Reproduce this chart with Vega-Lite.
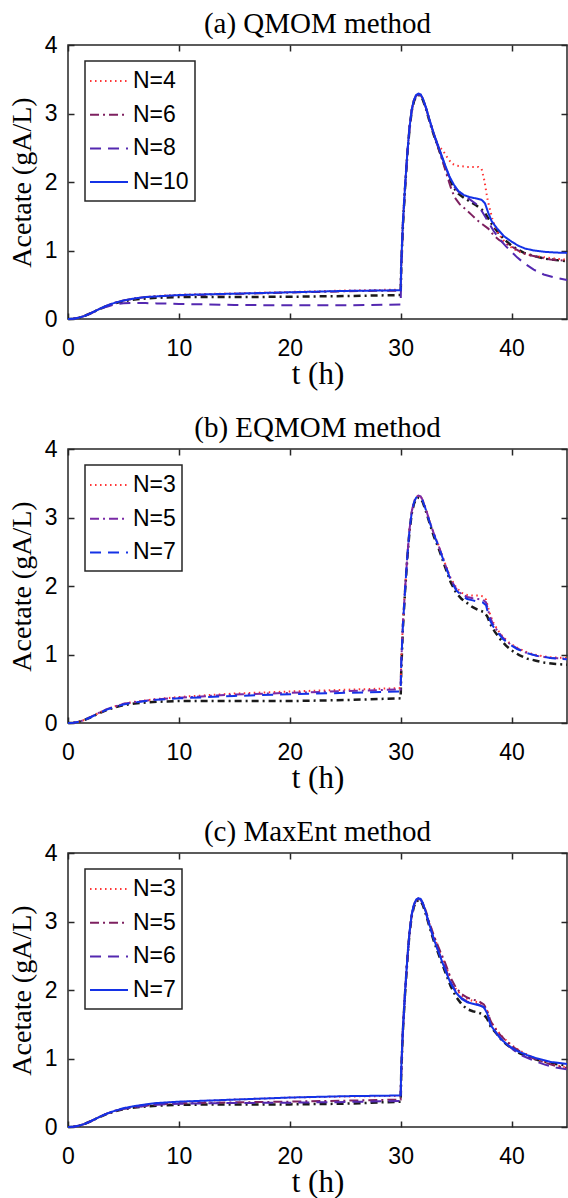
{
"$schema": "https://vega.github.io/schema/vega-lite/v6.json",
"autosize": {"type": "pad"},
"padding": {"left": 7, "top": 9, "right": 0, "bottom": 0},
"background": "white",
"bounds": "flush",
"spacing": 130,
"resolve": {"scale": {"color": "independent", "strokeDash": "independent"}, "legend": {"color": "independent", "strokeDash": "independent"}},
"config": {
  "view": {"stroke": "#262626", "strokeWidth": 1.5},
  "axis": {"grid": false, "domain": false, "tickColor": "#262626", "tickWidth": 1.5, "tickSize": -6,
    "labelFont": "Liberation Sans", "labelFontSize": 23, "labelColor": "#000", "labelFlush": false,
    "titleFont": "Liberation Serif", "titleFontSize": 28, "titleFontWeight": "normal", "titleColor": "#000"},
  "axisBottom": {"labelPadding": 24, "titlePadding": -1, "titleFontSize": 31},
  "axisLeft": {"labelPadding": 17, "titlePadding": 8},
  "legend": {"orient": "none", "legendX": 17, "legendY": 16, "symbolType": "M-1.46,0L1.46,0", "symbolSize": 676, "symbolOffset": 4,
    "symbolStrokeWidth": 2, "labelFont": "Liberation Sans", "labelFontSize": 23, "labelColor": "#000",
    "strokeColor": "#262626", "strokeWidth": 1.5, "padding": 6, "labelOffset": 10, "rowPadding": 7.7, "fillColor": "white"},
  "title": {"font": "Liberation Serif", "fontSize": 29, "fontWeight": "normal", "color": "#000", "offset": -5, "anchor": "middle", "frame": "group"},
  "line": {"strokeWidth": 2}
},
"vconcat": [
{
 "width": 499, "height": 274,
 "title": "(a) QMOM method",
 "data": {"values": [
{"s":"ref","t":0,"v":0},{"s":"ref","t":0.5,"v":0.005},{"s":"ref","t":1,"v":0.02},{"s":"ref","t":1.5,"v":0.045},{"s":"ref","t":2,"v":0.08},{"s":"ref","t":2.5,"v":0.12},{"s":"ref","t":3,"v":0.155},{"s":"ref","t":3.5,"v":0.19},{"s":"ref","t":4,"v":0.215},{"s":"ref","t":4.5,"v":0.24},{"s":"ref","t":5,"v":0.26},{"s":"ref","t":6,"v":0.285},{"s":"ref","t":7,"v":0.30},{"s":"ref","t":8,"v":0.31},{"s":"ref","t":10,"v":0.32},{"s":"ref","t":15,"v":0.32},{"s":"ref","t":20,"v":0.325},{"s":"ref","t":25,"v":0.335},{"s":"ref","t":30,"v":0.35},{"s":"ref","t":30.05,"v":0.75},{"s":"ref","t":30.2,"v":1.35},{"s":"ref","t":30.4,"v":1.92},{"s":"ref","t":30.6,"v":2.40},{"s":"ref","t":30.8,"v":2.78},{"s":"ref","t":31,"v":3.04},{"s":"ref","t":31.2,"v":3.18},{"s":"ref","t":31.4,"v":3.25},{"s":"ref","t":31.6,"v":3.27},{"s":"ref","t":31.8,"v":3.26},{"s":"ref","t":32,"v":3.20},{"s":"ref","t":32.3,"v":3.06},{"s":"ref","t":32.6,"v":2.89},{"s":"ref","t":33,"v":2.68},{"s":"ref","t":33.4,"v":2.50},{"s":"ref","t":34,"v":2.22},{"s":"ref","t":34.4,"v":2.05},{"s":"ref","t":34.8,"v":1.91},{"s":"ref","t":35.2,"v":1.83},{"s":"ref","t":35.7,"v":1.77},{"s":"ref","t":36.2,"v":1.72},{"s":"ref","t":36.8,"v":1.66},{"s":"ref","t":37.3,"v":1.60},{"s":"ref","t":37.6,"v":1.55},{"s":"ref","t":37.9,"v":1.47},{"s":"ref","t":38.2,"v":1.39},{"s":"ref","t":38.7,"v":1.28},{"s":"ref","t":39.3,"v":1.17},{"s":"ref","t":40,"v":1.07},{"s":"ref","t":40.6,"v":1.01},{"s":"ref","t":41.2,"v":0.96},{"s":"ref","t":42,"v":0.92},{"s":"ref","t":43,"v":0.88},{"s":"ref","t":44,"v":0.86},{"s":"ref","t":45,"v":0.845},

{"s":"N=4","t":0,"v":0},{"s":"N=4","t":0.5,"v":0.005},{"s":"N=4","t":1,"v":0.02},{"s":"N=4","t":1.5,"v":0.045},{"s":"N=4","t":2,"v":0.08},{"s":"N=4","t":2.5,"v":0.12},{"s":"N=4","t":3,"v":0.16},{"s":"N=4","t":3.5,"v":0.195},{"s":"N=4","t":4,"v":0.225},{"s":"N=4","t":4.5,"v":0.25},{"s":"N=4","t":5,"v":0.27},{"s":"N=4","t":6,"v":0.30},{"s":"N=4","t":7,"v":0.32},{"s":"N=4","t":8,"v":0.335},{"s":"N=4","t":10,"v":0.355},{"s":"N=4","t":15,"v":0.375},{"s":"N=4","t":20,"v":0.395},{"s":"N=4","t":25,"v":0.415},{"s":"N=4","t":30,"v":0.43},{"s":"N=4","t":30.05,"v":0.8},{"s":"N=4","t":30.2,"v":1.4},{"s":"N=4","t":30.4,"v":1.95},{"s":"N=4","t":30.6,"v":2.42},{"s":"N=4","t":30.8,"v":2.8},{"s":"N=4","t":31,"v":3.06},{"s":"N=4","t":31.2,"v":3.2},{"s":"N=4","t":31.4,"v":3.27},{"s":"N=4","t":31.6,"v":3.29},{"s":"N=4","t":31.8,"v":3.28},{"s":"N=4","t":32,"v":3.22},{"s":"N=4","t":32.3,"v":3.08},{"s":"N=4","t":32.6,"v":2.91},{"s":"N=4","t":33,"v":2.70},{"s":"N=4","t":33.4,"v":2.53},{"s":"N=4","t":33.8,"v":2.46},{"s":"N=4","t":34.2,"v":2.36},{"s":"N=4","t":34.6,"v":2.27},{"s":"N=4","t":35,"v":2.24},{"s":"N=4","t":35.5,"v":2.23},{"s":"N=4","t":36,"v":2.22},{"s":"N=4","t":36.5,"v":2.22},{"s":"N=4","t":37,"v":2.22},{"s":"N=4","t":37.3,"v":2.19},{"s":"N=4","t":37.55,"v":2.02},{"s":"N=4","t":37.85,"v":1.73},{"s":"N=4","t":38.3,"v":1.44},{"s":"N=4","t":38.7,"v":1.28},{"s":"N=4","t":39.1,"v":1.18},{"s":"N=4","t":39.6,"v":1.09},{"s":"N=4","t":40.2,"v":1.02},{"s":"N=4","t":41,"v":0.96},{"s":"N=4","t":42,"v":0.92},{"s":"N=4","t":43,"v":0.90},{"s":"N=4","t":44,"v":0.88},{"s":"N=4","t":45,"v":0.865},

{"s":"N=6","t":0,"v":0},{"s":"N=6","t":0.5,"v":0.005},{"s":"N=6","t":1,"v":0.02},{"s":"N=6","t":1.5,"v":0.045},{"s":"N=6","t":2,"v":0.08},{"s":"N=6","t":2.5,"v":0.12},{"s":"N=6","t":3,"v":0.16},{"s":"N=6","t":3.5,"v":0.195},{"s":"N=6","t":4,"v":0.225},{"s":"N=6","t":4.5,"v":0.25},{"s":"N=6","t":5,"v":0.27},{"s":"N=6","t":6,"v":0.30},{"s":"N=6","t":7,"v":0.32},{"s":"N=6","t":8,"v":0.33},{"s":"N=6","t":10,"v":0.345},{"s":"N=6","t":15,"v":0.365},{"s":"N=6","t":20,"v":0.385},{"s":"N=6","t":25,"v":0.405},{"s":"N=6","t":30,"v":0.415},{"s":"N=6","t":30.05,"v":0.8},{"s":"N=6","t":30.2,"v":1.4},{"s":"N=6","t":30.4,"v":1.95},{"s":"N=6","t":30.6,"v":2.42},{"s":"N=6","t":30.8,"v":2.8},{"s":"N=6","t":31,"v":3.05},{"s":"N=6","t":31.2,"v":3.19},{"s":"N=6","t":31.4,"v":3.26},{"s":"N=6","t":31.6,"v":3.28},{"s":"N=6","t":31.8,"v":3.27},{"s":"N=6","t":32,"v":3.21},{"s":"N=6","t":32.3,"v":3.07},{"s":"N=6","t":32.6,"v":2.90},{"s":"N=6","t":33,"v":2.69},{"s":"N=6","t":33.4,"v":2.50},{"s":"N=6","t":33.8,"v":2.30},{"s":"N=6","t":34.2,"v":2.08},{"s":"N=6","t":34.6,"v":1.88},{"s":"N=6","t":34.9,"v":1.77},{"s":"N=6","t":35.3,"v":1.68},{"s":"N=6","t":35.8,"v":1.61},{"s":"N=6","t":36.4,"v":1.52},{"s":"N=6","t":37,"v":1.43},{"s":"N=6","t":37.4,"v":1.38},{"s":"N=6","t":37.9,"v":1.32},{"s":"N=6","t":38.4,"v":1.22},{"s":"N=6","t":38.9,"v":1.15},{"s":"N=6","t":39.5,"v":1.10},{"s":"N=6","t":40,"v":1.06},{"s":"N=6","t":40.6,"v":1.00},{"s":"N=6","t":41.4,"v":0.94},{"s":"N=6","t":42.5,"v":0.90},{"s":"N=6","t":43.5,"v":0.87},{"s":"N=6","t":45,"v":0.85},

{"s":"N=8","t":0,"v":0},{"s":"N=8","t":0.5,"v":0.005},{"s":"N=8","t":1,"v":0.02},{"s":"N=8","t":1.5,"v":0.045},{"s":"N=8","t":2,"v":0.08},{"s":"N=8","t":2.5,"v":0.115},{"s":"N=8","t":3,"v":0.15},{"s":"N=8","t":3.5,"v":0.18},{"s":"N=8","t":4,"v":0.205},{"s":"N=8","t":4.5,"v":0.22},{"s":"N=8","t":5,"v":0.23},{"s":"N=8","t":6,"v":0.235},{"s":"N=8","t":7,"v":0.232},{"s":"N=8","t":8,"v":0.228},{"s":"N=8","t":10,"v":0.22},{"s":"N=8","t":15,"v":0.205},{"s":"N=8","t":20,"v":0.20},{"s":"N=8","t":25,"v":0.20},{"s":"N=8","t":30,"v":0.21},{"s":"N=8","t":30.05,"v":0.7},{"s":"N=8","t":30.2,"v":1.38},{"s":"N=8","t":30.4,"v":1.94},{"s":"N=8","t":30.6,"v":2.41},{"s":"N=8","t":30.8,"v":2.79},{"s":"N=8","t":31,"v":3.05},{"s":"N=8","t":31.2,"v":3.19},{"s":"N=8","t":31.4,"v":3.26},{"s":"N=8","t":31.6,"v":3.28},{"s":"N=8","t":31.8,"v":3.27},{"s":"N=8","t":32,"v":3.21},{"s":"N=8","t":32.3,"v":3.07},{"s":"N=8","t":32.6,"v":2.90},{"s":"N=8","t":33,"v":2.69},{"s":"N=8","t":33.4,"v":2.50},{"s":"N=8","t":34,"v":2.24},{"s":"N=8","t":34.4,"v":2.07},{"s":"N=8","t":34.8,"v":1.94},{"s":"N=8","t":35.2,"v":1.86},{"s":"N=8","t":35.7,"v":1.80},{"s":"N=8","t":36.2,"v":1.75},{"s":"N=8","t":36.8,"v":1.68},{"s":"N=8","t":37.3,"v":1.58},{"s":"N=8","t":37.6,"v":1.50},{"s":"N=8","t":37.9,"v":1.42},{"s":"N=8","t":38.4,"v":1.28},{"s":"N=8","t":39,"v":1.15},{"s":"N=8","t":39.5,"v":1.06},{"s":"N=8","t":40,"v":0.98},{"s":"N=8","t":40.5,"v":0.90},{"s":"N=8","t":41.1,"v":0.82},{"s":"N=8","t":42,"v":0.72},{"s":"N=8","t":42.9,"v":0.65},{"s":"N=8","t":44,"v":0.60},{"s":"N=8","t":45,"v":0.57},

{"s":"N=10","t":0,"v":0},{"s":"N=10","t":0.5,"v":0.005},{"s":"N=10","t":1,"v":0.02},{"s":"N=10","t":1.5,"v":0.045},{"s":"N=10","t":2,"v":0.08},{"s":"N=10","t":2.5,"v":0.12},{"s":"N=10","t":3,"v":0.16},{"s":"N=10","t":3.5,"v":0.195},{"s":"N=10","t":4,"v":0.225},{"s":"N=10","t":4.5,"v":0.25},{"s":"N=10","t":5,"v":0.27},{"s":"N=10","t":6,"v":0.30},{"s":"N=10","t":7,"v":0.32},{"s":"N=10","t":8,"v":0.33},{"s":"N=10","t":10,"v":0.35},{"s":"N=10","t":15,"v":0.37},{"s":"N=10","t":20,"v":0.39},{"s":"N=10","t":25,"v":0.41},{"s":"N=10","t":30,"v":0.42},{"s":"N=10","t":30.05,"v":0.8},{"s":"N=10","t":30.2,"v":1.4},{"s":"N=10","t":30.4,"v":1.95},{"s":"N=10","t":30.6,"v":2.42},{"s":"N=10","t":30.8,"v":2.8},{"s":"N=10","t":31,"v":3.06},{"s":"N=10","t":31.2,"v":3.2},{"s":"N=10","t":31.4,"v":3.27},{"s":"N=10","t":31.6,"v":3.29},{"s":"N=10","t":31.8,"v":3.28},{"s":"N=10","t":32,"v":3.22},{"s":"N=10","t":32.3,"v":3.08},{"s":"N=10","t":32.6,"v":2.91},{"s":"N=10","t":33,"v":2.70},{"s":"N=10","t":33.4,"v":2.52},{"s":"N=10","t":34,"v":2.25},{"s":"N=10","t":34.4,"v":2.08},{"s":"N=10","t":34.8,"v":1.96},{"s":"N=10","t":35.2,"v":1.87},{"s":"N=10","t":35.7,"v":1.81},{"s":"N=10","t":36.2,"v":1.78},{"s":"N=10","t":36.8,"v":1.76},{"s":"N=10","t":37.3,"v":1.74},{"s":"N=10","t":37.6,"v":1.69},{"s":"N=10","t":37.9,"v":1.55},{"s":"N=10","t":38.2,"v":1.43},{"s":"N=10","t":38.7,"v":1.32},{"s":"N=10","t":39.3,"v":1.21},{"s":"N=10","t":40,"v":1.13},{"s":"N=10","t":40.6,"v":1.07},{"s":"N=10","t":41.2,"v":1.03},{"s":"N=10","t":42,"v":1.00},{"s":"N=10","t":43,"v":0.98},{"s":"N=10","t":44,"v":0.97},{"s":"N=10","t":45,"v":0.965}
 ]},
 "layer": [
  {"transform": [{"filter": "datum.s == 'ref'"}],
   "mark": {"type": "line", "color": "#1a1a1a", "strokeDash": [7, 4, 2, 4], "strokeWidth": 2.5},
   "encoding": {
    "x": {"field": "t", "type": "quantitative", "scale": {"domain": [0, 45], "nice": false, "zero": false}, "axis": {"orient": "top", "labels": false, "title": null, "values": [0, 10, 20, 30, 40]}},
    "y": {"field": "v", "type": "quantitative", "scale": {"domain": [0, 4], "nice": false}, "axis": {"orient": "right", "labels": false, "title": null, "values": [0, 1, 2, 3, 4]}}
   }},
  {"transform": [{"filter": "datum.s != 'ref'"}],
   "mark": {"type": "line"},
   "encoding": {
    "x": {"field": "t", "type": "quantitative", "scale": {"domain": [0, 45], "nice": false, "zero": false}, "axis": {"orient": "bottom", "title": "t (h)", "values": [0, 10, 20, 30, 40]}},
    "y": {"field": "v", "type": "quantitative", "scale": {"domain": [0, 4], "nice": false}, "axis": {"orient": "left", "title": "Acetate (gA/L)", "values": [0, 1, 2, 3, 4]}},
    "color": {"field": "s", "type": "nominal", "scale": {"domain": ["N=4", "N=6", "N=8", "N=10"], "range": ["#ff3333", "#7e2060", "#5428b0", "#1432e6"]}, "legend": {"title": null}},
    "strokeDash": {"field": "s", "type": "nominal", "scale": {"domain": ["N=4", "N=6", "N=8", "N=10"], "range": [[1.5, 3.5], [9, 4, 2, 4], [11, 7], [1, 0]]}, "legend": {"title": null}}
   }}
 ],
 "resolve": {"scale": {"x": "independent", "y": "independent"}, "axis": {"x": "independent", "y": "independent"}}
},
{
 "width": 499, "height": 274,
 "title": "(b) EQMOM method",
 "data": {"values": [
{"s":"ref","t":0,"v":0},{"s":"ref","t":0.5,"v":0.005},{"s":"ref","t":1,"v":0.02},{"s":"ref","t":1.5,"v":0.045},{"s":"ref","t":2,"v":0.08},{"s":"ref","t":2.5,"v":0.12},{"s":"ref","t":3,"v":0.155},{"s":"ref","t":3.5,"v":0.19},{"s":"ref","t":4,"v":0.215},{"s":"ref","t":4.5,"v":0.24},{"s":"ref","t":5,"v":0.26},{"s":"ref","t":6,"v":0.285},{"s":"ref","t":7,"v":0.30},{"s":"ref","t":8,"v":0.31},{"s":"ref","t":10,"v":0.32},{"s":"ref","t":15,"v":0.32},{"s":"ref","t":20,"v":0.32},{"s":"ref","t":25,"v":0.335},{"s":"ref","t":30,"v":0.36},{"s":"ref","t":30.05,"v":0.75},{"s":"ref","t":30.2,"v":1.38},{"s":"ref","t":30.4,"v":1.93},{"s":"ref","t":30.6,"v":2.41},{"s":"ref","t":30.8,"v":2.80},{"s":"ref","t":31,"v":3.06},{"s":"ref","t":31.2,"v":3.20},{"s":"ref","t":31.4,"v":3.27},{"s":"ref","t":31.6,"v":3.29},{"s":"ref","t":31.8,"v":3.28},{"s":"ref","t":32,"v":3.22},{"s":"ref","t":32.3,"v":3.08},{"s":"ref","t":32.6,"v":2.92},{"s":"ref","t":33,"v":2.72},{"s":"ref","t":33.4,"v":2.56},{"s":"ref","t":34,"v":2.28},{"s":"ref","t":34.5,"v":2.06},{"s":"ref","t":35,"v":1.90},{"s":"ref","t":35.5,"v":1.81},{"s":"ref","t":36,"v":1.75},{"s":"ref","t":36.5,"v":1.69},{"s":"ref","t":37,"v":1.65},{"s":"ref","t":37.5,"v":1.62},{"s":"ref","t":37.8,"v":1.56},{"s":"ref","t":38.1,"v":1.44},{"s":"ref","t":38.5,"v":1.33},{"s":"ref","t":39,"v":1.22},{"s":"ref","t":39.5,"v":1.13},{"s":"ref","t":40,"v":1.06},{"s":"ref","t":40.7,"v":0.99},{"s":"ref","t":41.4,"v":0.94},{"s":"ref","t":42.2,"v":0.91},{"s":"ref","t":43,"v":0.88},{"s":"ref","t":44,"v":0.86},{"s":"ref","t":45,"v":0.85},

{"s":"N=3","t":0,"v":0},{"s":"N=3","t":0.5,"v":0.005},{"s":"N=3","t":1,"v":0.02},{"s":"N=3","t":1.5,"v":0.045},{"s":"N=3","t":2,"v":0.085},{"s":"N=3","t":2.5,"v":0.125},{"s":"N=3","t":3,"v":0.165},{"s":"N=3","t":3.5,"v":0.2},{"s":"N=3","t":4,"v":0.23},{"s":"N=3","t":4.5,"v":0.255},{"s":"N=3","t":5,"v":0.28},{"s":"N=3","t":6,"v":0.31},{"s":"N=3","t":7,"v":0.33},{"s":"N=3","t":8,"v":0.35},{"s":"N=3","t":10,"v":0.38},{"s":"N=3","t":15,"v":0.43},{"s":"N=3","t":20,"v":0.46},{"s":"N=3","t":25,"v":0.485},{"s":"N=3","t":30,"v":0.51},{"s":"N=3","t":30.05,"v":0.9},{"s":"N=3","t":30.2,"v":1.45},{"s":"N=3","t":30.4,"v":1.97},{"s":"N=3","t":30.6,"v":2.44},{"s":"N=3","t":30.8,"v":2.83},{"s":"N=3","t":31,"v":3.09},{"s":"N=3","t":31.2,"v":3.23},{"s":"N=3","t":31.4,"v":3.30},{"s":"N=3","t":31.6,"v":3.32},{"s":"N=3","t":31.8,"v":3.31},{"s":"N=3","t":32,"v":3.25},{"s":"N=3","t":32.3,"v":3.11},{"s":"N=3","t":32.6,"v":2.95},{"s":"N=3","t":33,"v":2.76},{"s":"N=3","t":33.4,"v":2.60},{"s":"N=3","t":34,"v":2.33},{"s":"N=3","t":34.5,"v":2.12},{"s":"N=3","t":35,"v":1.98},{"s":"N=3","t":35.5,"v":1.90},{"s":"N=3","t":36,"v":1.87},{"s":"N=3","t":36.5,"v":1.86},{"s":"N=3","t":37,"v":1.86},{"s":"N=3","t":37.4,"v":1.85},{"s":"N=3","t":37.7,"v":1.80},{"s":"N=3","t":38,"v":1.62},{"s":"N=3","t":38.3,"v":1.48},{"s":"N=3","t":38.7,"v":1.37},{"s":"N=3","t":39.2,"v":1.26},{"s":"N=3","t":39.8,"v":1.17},{"s":"N=3","t":40.5,"v":1.10},{"s":"N=3","t":41.4,"v":1.03},{"s":"N=3","t":42.3,"v":0.99},{"s":"N=3","t":43.5,"v":0.96},{"s":"N=3","t":45,"v":0.95},

{"s":"N=5","t":0,"v":0},{"s":"N=5","t":0.5,"v":0.005},{"s":"N=5","t":1,"v":0.02},{"s":"N=5","t":1.5,"v":0.045},{"s":"N=5","t":2,"v":0.085},{"s":"N=5","t":2.5,"v":0.125},{"s":"N=5","t":3,"v":0.165},{"s":"N=5","t":3.5,"v":0.2},{"s":"N=5","t":4,"v":0.23},{"s":"N=5","t":4.5,"v":0.255},{"s":"N=5","t":5,"v":0.28},{"s":"N=5","t":6,"v":0.305},{"s":"N=5","t":7,"v":0.325},{"s":"N=5","t":8,"v":0.345},{"s":"N=5","t":10,"v":0.37},{"s":"N=5","t":15,"v":0.415},{"s":"N=5","t":20,"v":0.44},{"s":"N=5","t":25,"v":0.465},{"s":"N=5","t":30,"v":0.49},{"s":"N=5","t":30.05,"v":0.88},{"s":"N=5","t":30.2,"v":1.44},{"s":"N=5","t":30.4,"v":1.96},{"s":"N=5","t":30.6,"v":2.44},{"s":"N=5","t":30.8,"v":2.83},{"s":"N=5","t":31,"v":3.09},{"s":"N=5","t":31.2,"v":3.23},{"s":"N=5","t":31.4,"v":3.30},{"s":"N=5","t":31.6,"v":3.32},{"s":"N=5","t":31.8,"v":3.31},{"s":"N=5","t":32,"v":3.25},{"s":"N=5","t":32.3,"v":3.11},{"s":"N=5","t":32.6,"v":2.95},{"s":"N=5","t":33,"v":2.76},{"s":"N=5","t":33.4,"v":2.60},{"s":"N=5","t":34,"v":2.32},{"s":"N=5","t":34.5,"v":2.10},{"s":"N=5","t":35,"v":1.96},{"s":"N=5","t":35.5,"v":1.88},{"s":"N=5","t":36,"v":1.84},{"s":"N=5","t":36.5,"v":1.82},{"s":"N=5","t":37,"v":1.81},{"s":"N=5","t":37.4,"v":1.80},{"s":"N=5","t":37.7,"v":1.76},{"s":"N=5","t":38,"v":1.58},{"s":"N=5","t":38.3,"v":1.45},{"s":"N=5","t":38.7,"v":1.35},{"s":"N=5","t":39.2,"v":1.25},{"s":"N=5","t":39.8,"v":1.16},{"s":"N=5","t":40.5,"v":1.09},{"s":"N=5","t":41.4,"v":1.02},{"s":"N=5","t":42.3,"v":0.98},{"s":"N=5","t":43.5,"v":0.95},{"s":"N=5","t":45,"v":0.94},

{"s":"N=7","t":0,"v":0},{"s":"N=7","t":0.5,"v":0.005},{"s":"N=7","t":1,"v":0.02},{"s":"N=7","t":1.5,"v":0.045},{"s":"N=7","t":2,"v":0.08},{"s":"N=7","t":2.5,"v":0.12},{"s":"N=7","t":3,"v":0.16},{"s":"N=7","t":3.5,"v":0.195},{"s":"N=7","t":4,"v":0.225},{"s":"N=7","t":4.5,"v":0.25},{"s":"N=7","t":5,"v":0.27},{"s":"N=7","t":6,"v":0.30},{"s":"N=7","t":7,"v":0.32},{"s":"N=7","t":8,"v":0.34},{"s":"N=7","t":10,"v":0.36},{"s":"N=7","t":15,"v":0.395},{"s":"N=7","t":20,"v":0.42},{"s":"N=7","t":25,"v":0.44},{"s":"N=7","t":30,"v":0.46},{"s":"N=7","t":30.05,"v":0.85},{"s":"N=7","t":30.2,"v":1.42},{"s":"N=7","t":30.4,"v":1.95},{"s":"N=7","t":30.6,"v":2.43},{"s":"N=7","t":30.8,"v":2.82},{"s":"N=7","t":31,"v":3.08},{"s":"N=7","t":31.2,"v":3.22},{"s":"N=7","t":31.4,"v":3.29},{"s":"N=7","t":31.6,"v":3.31},{"s":"N=7","t":31.8,"v":3.30},{"s":"N=7","t":32,"v":3.24},{"s":"N=7","t":32.3,"v":3.10},{"s":"N=7","t":32.6,"v":2.94},{"s":"N=7","t":33,"v":2.75},{"s":"N=7","t":33.4,"v":2.59},{"s":"N=7","t":34,"v":2.31},{"s":"N=7","t":34.5,"v":2.09},{"s":"N=7","t":35,"v":1.94},{"s":"N=7","t":35.5,"v":1.86},{"s":"N=7","t":36,"v":1.81},{"s":"N=7","t":36.5,"v":1.79},{"s":"N=7","t":37,"v":1.77},{"s":"N=7","t":37.4,"v":1.76},{"s":"N=7","t":37.7,"v":1.72},{"s":"N=7","t":38,"v":1.52},{"s":"N=7","t":38.3,"v":1.42},{"s":"N=7","t":38.7,"v":1.33},{"s":"N=7","t":39.2,"v":1.23},{"s":"N=7","t":39.8,"v":1.15},{"s":"N=7","t":40.5,"v":1.08},{"s":"N=7","t":41.4,"v":1.02},{"s":"N=7","t":42.3,"v":0.98},{"s":"N=7","t":43.5,"v":0.95},{"s":"N=7","t":45,"v":0.93}
 ]},
 "layer": [
  {"transform": [{"filter": "datum.s == 'ref'"}],
   "mark": {"type": "line", "color": "#1a1a1a", "strokeDash": [7, 4, 2, 4], "strokeWidth": 2.5},
   "encoding": {
    "x": {"field": "t", "type": "quantitative", "scale": {"domain": [0, 45], "nice": false, "zero": false}, "axis": {"orient": "top", "labels": false, "title": null, "values": [0, 10, 20, 30, 40]}},
    "y": {"field": "v", "type": "quantitative", "scale": {"domain": [0, 4], "nice": false}, "axis": {"orient": "right", "labels": false, "title": null, "values": [0, 1, 2, 3, 4]}}
   }},
  {"transform": [{"filter": "datum.s != 'ref'"}],
   "mark": {"type": "line"},
   "encoding": {
    "x": {"field": "t", "type": "quantitative", "scale": {"domain": [0, 45], "nice": false, "zero": false}, "axis": {"orient": "bottom", "title": "t (h)", "values": [0, 10, 20, 30, 40]}},
    "y": {"field": "v", "type": "quantitative", "scale": {"domain": [0, 4], "nice": false}, "axis": {"orient": "left", "title": "Acetate (gA/L)", "values": [0, 1, 2, 3, 4]}},
    "color": {"field": "s", "type": "nominal", "scale": {"domain": ["N=3", "N=5", "N=7"], "range": ["#ff3333", "#7a2aa6", "#1432e6"]}, "legend": {"title": null}},
    "strokeDash": {"field": "s", "type": "nominal", "scale": {"domain": ["N=3", "N=5", "N=7"], "range": [[1.5, 3.5], [9, 4, 2, 4], [11, 7]]}, "legend": {"title": null}}
   }}
 ],
 "resolve": {"scale": {"x": "independent", "y": "independent"}, "axis": {"x": "independent", "y": "independent"}}
},
{
 "width": 499, "height": 274,
 "title": "(c) MaxEnt method",
 "data": {"values": [
{"s":"ref","t":0,"v":0},{"s":"ref","t":0.5,"v":0.005},{"s":"ref","t":1,"v":0.02},{"s":"ref","t":1.5,"v":0.045},{"s":"ref","t":2,"v":0.08},{"s":"ref","t":2.5,"v":0.12},{"s":"ref","t":3,"v":0.155},{"s":"ref","t":3.5,"v":0.19},{"s":"ref","t":4,"v":0.215},{"s":"ref","t":4.5,"v":0.24},{"s":"ref","t":5,"v":0.26},{"s":"ref","t":6,"v":0.285},{"s":"ref","t":7,"v":0.30},{"s":"ref","t":8,"v":0.31},{"s":"ref","t":10,"v":0.325},{"s":"ref","t":15,"v":0.33},{"s":"ref","t":20,"v":0.33},{"s":"ref","t":25,"v":0.34},{"s":"ref","t":30,"v":0.37},{"s":"ref","t":30.05,"v":0.78},{"s":"ref","t":30.2,"v":1.40},{"s":"ref","t":30.4,"v":1.96},{"s":"ref","t":30.6,"v":2.44},{"s":"ref","t":30.8,"v":2.83},{"s":"ref","t":31,"v":3.08},{"s":"ref","t":31.2,"v":3.22},{"s":"ref","t":31.4,"v":3.29},{"s":"ref","t":31.6,"v":3.31},{"s":"ref","t":31.8,"v":3.30},{"s":"ref","t":32,"v":3.24},{"s":"ref","t":32.3,"v":3.09},{"s":"ref","t":32.6,"v":2.92},{"s":"ref","t":33,"v":2.71},{"s":"ref","t":33.4,"v":2.53},{"s":"ref","t":34,"v":2.27},{"s":"ref","t":34.5,"v":2.06},{"s":"ref","t":35,"v":1.90},{"s":"ref","t":35.5,"v":1.79},{"s":"ref","t":36,"v":1.72},{"s":"ref","t":36.5,"v":1.69},{"s":"ref","t":37,"v":1.67},{"s":"ref","t":37.5,"v":1.64},{"s":"ref","t":37.8,"v":1.58},{"s":"ref","t":38.1,"v":1.47},{"s":"ref","t":38.5,"v":1.39},{"s":"ref","t":39,"v":1.29},{"s":"ref","t":39.5,"v":1.21},{"s":"ref","t":40,"v":1.15},{"s":"ref","t":40.7,"v":1.08},{"s":"ref","t":41.4,"v":1.03},{"s":"ref","t":42.3,"v":0.98},{"s":"ref","t":43.5,"v":0.93},{"s":"ref","t":45,"v":0.90},

{"s":"N=3","t":0,"v":0},{"s":"N=3","t":0.5,"v":0.005},{"s":"N=3","t":1,"v":0.02},{"s":"N=3","t":1.5,"v":0.045},{"s":"N=3","t":2,"v":0.08},{"s":"N=3","t":2.5,"v":0.12},{"s":"N=3","t":3,"v":0.16},{"s":"N=3","t":3.5,"v":0.195},{"s":"N=3","t":4,"v":0.225},{"s":"N=3","t":4.5,"v":0.25},{"s":"N=3","t":5,"v":0.275},{"s":"N=3","t":6,"v":0.305},{"s":"N=3","t":7,"v":0.325},{"s":"N=3","t":8,"v":0.345},{"s":"N=3","t":10,"v":0.365},{"s":"N=3","t":15,"v":0.40},{"s":"N=3","t":20,"v":0.43},{"s":"N=3","t":25,"v":0.445},{"s":"N=3","t":30,"v":0.455},{"s":"N=3","t":30.05,"v":0.85},{"s":"N=3","t":30.2,"v":1.42},{"s":"N=3","t":30.4,"v":1.98},{"s":"N=3","t":30.6,"v":2.46},{"s":"N=3","t":30.8,"v":2.85},{"s":"N=3","t":31,"v":3.11},{"s":"N=3","t":31.2,"v":3.25},{"s":"N=3","t":31.4,"v":3.32},{"s":"N=3","t":31.6,"v":3.34},{"s":"N=3","t":31.8,"v":3.33},{"s":"N=3","t":32,"v":3.27},{"s":"N=3","t":32.3,"v":3.13},{"s":"N=3","t":32.6,"v":2.97},{"s":"N=3","t":33,"v":2.78},{"s":"N=3","t":33.4,"v":2.61},{"s":"N=3","t":34,"v":2.38},{"s":"N=3","t":34.5,"v":2.16},{"s":"N=3","t":35,"v":2.01},{"s":"N=3","t":35.5,"v":1.92},{"s":"N=3","t":36,"v":1.87},{"s":"N=3","t":36.5,"v":1.84},{"s":"N=3","t":37,"v":1.82},{"s":"N=3","t":37.5,"v":1.78},{"s":"N=3","t":37.8,"v":1.70},{"s":"N=3","t":38.1,"v":1.55},{"s":"N=3","t":38.5,"v":1.45},{"s":"N=3","t":39,"v":1.35},{"s":"N=3","t":39.6,"v":1.25},{"s":"N=3","t":40.3,"v":1.16},{"s":"N=3","t":41,"v":1.09},{"s":"N=3","t":42,"v":1.01},{"s":"N=3","t":43,"v":0.95},{"s":"N=3","t":44,"v":0.90},{"s":"N=3","t":45,"v":0.87},

{"s":"N=5","t":0,"v":0},{"s":"N=5","t":0.5,"v":0.005},{"s":"N=5","t":1,"v":0.02},{"s":"N=5","t":1.5,"v":0.045},{"s":"N=5","t":2,"v":0.08},{"s":"N=5","t":2.5,"v":0.12},{"s":"N=5","t":3,"v":0.16},{"s":"N=5","t":3.5,"v":0.195},{"s":"N=5","t":4,"v":0.22},{"s":"N=5","t":4.5,"v":0.245},{"s":"N=5","t":5,"v":0.265},{"s":"N=5","t":6,"v":0.29},{"s":"N=5","t":7,"v":0.31},{"s":"N=5","t":8,"v":0.33},{"s":"N=5","t":10,"v":0.345},{"s":"N=5","t":15,"v":0.36},{"s":"N=5","t":20,"v":0.37},{"s":"N=5","t":25,"v":0.385},{"s":"N=5","t":30,"v":0.40},{"s":"N=5","t":30.05,"v":0.8},{"s":"N=5","t":30.2,"v":1.41},{"s":"N=5","t":30.4,"v":1.97},{"s":"N=5","t":30.6,"v":2.45},{"s":"N=5","t":30.8,"v":2.84},{"s":"N=5","t":31,"v":3.10},{"s":"N=5","t":31.2,"v":3.24},{"s":"N=5","t":31.4,"v":3.31},{"s":"N=5","t":31.6,"v":3.33},{"s":"N=5","t":31.8,"v":3.32},{"s":"N=5","t":32,"v":3.27},{"s":"N=5","t":32.3,"v":3.14},{"s":"N=5","t":32.6,"v":2.98},{"s":"N=5","t":33,"v":2.79},{"s":"N=5","t":33.4,"v":2.63},{"s":"N=5","t":34,"v":2.40},{"s":"N=5","t":34.5,"v":2.18},{"s":"N=5","t":35,"v":2.03},{"s":"N=5","t":35.5,"v":1.94},{"s":"N=5","t":36,"v":1.89},{"s":"N=5","t":36.5,"v":1.86},{"s":"N=5","t":37,"v":1.84},{"s":"N=5","t":37.5,"v":1.79},{"s":"N=5","t":37.8,"v":1.70},{"s":"N=5","t":38.1,"v":1.55},{"s":"N=5","t":38.5,"v":1.44},{"s":"N=5","t":39,"v":1.34},{"s":"N=5","t":39.6,"v":1.24},{"s":"N=5","t":40.3,"v":1.15},{"s":"N=5","t":41,"v":1.08},{"s":"N=5","t":42,"v":1.00},{"s":"N=5","t":43,"v":0.94},{"s":"N=5","t":44,"v":0.89},{"s":"N=5","t":45,"v":0.86},

{"s":"N=6","t":0,"v":0},{"s":"N=6","t":0.5,"v":0.005},{"s":"N=6","t":1,"v":0.02},{"s":"N=6","t":1.5,"v":0.045},{"s":"N=6","t":2,"v":0.08},{"s":"N=6","t":2.5,"v":0.12},{"s":"N=6","t":3,"v":0.16},{"s":"N=6","t":3.5,"v":0.195},{"s":"N=6","t":4,"v":0.22},{"s":"N=6","t":4.5,"v":0.245},{"s":"N=6","t":5,"v":0.265},{"s":"N=6","t":6,"v":0.29},{"s":"N=6","t":7,"v":0.31},{"s":"N=6","t":8,"v":0.325},{"s":"N=6","t":10,"v":0.34},{"s":"N=6","t":15,"v":0.35},{"s":"N=6","t":20,"v":0.355},{"s":"N=6","t":25,"v":0.365},{"s":"N=6","t":30,"v":0.38},{"s":"N=6","t":30.05,"v":0.8},{"s":"N=6","t":30.2,"v":1.41},{"s":"N=6","t":30.4,"v":1.97},{"s":"N=6","t":30.6,"v":2.45},{"s":"N=6","t":30.8,"v":2.84},{"s":"N=6","t":31,"v":3.10},{"s":"N=6","t":31.2,"v":3.24},{"s":"N=6","t":31.4,"v":3.31},{"s":"N=6","t":31.6,"v":3.33},{"s":"N=6","t":31.8,"v":3.32},{"s":"N=6","t":32,"v":3.26},{"s":"N=6","t":32.3,"v":3.11},{"s":"N=6","t":32.6,"v":2.94},{"s":"N=6","t":33,"v":2.74},{"s":"N=6","t":33.4,"v":2.57},{"s":"N=6","t":34,"v":2.33},{"s":"N=6","t":34.5,"v":2.12},{"s":"N=6","t":35,"v":1.97},{"s":"N=6","t":35.5,"v":1.88},{"s":"N=6","t":36,"v":1.83},{"s":"N=6","t":36.5,"v":1.80},{"s":"N=6","t":37,"v":1.79},{"s":"N=6","t":37.5,"v":1.75},{"s":"N=6","t":37.8,"v":1.66},{"s":"N=6","t":38.1,"v":1.50},{"s":"N=6","t":38.5,"v":1.40},{"s":"N=6","t":39,"v":1.30},{"s":"N=6","t":39.6,"v":1.20},{"s":"N=6","t":40.3,"v":1.11},{"s":"N=6","t":41,"v":1.04},{"s":"N=6","t":42,"v":0.97},{"s":"N=6","t":43,"v":0.91},{"s":"N=6","t":44,"v":0.87},{"s":"N=6","t":45,"v":0.84},

{"s":"N=7","t":0,"v":0},{"s":"N=7","t":0.5,"v":0.005},{"s":"N=7","t":1,"v":0.02},{"s":"N=7","t":1.5,"v":0.045},{"s":"N=7","t":2,"v":0.08},{"s":"N=7","t":2.5,"v":0.12},{"s":"N=7","t":3,"v":0.16},{"s":"N=7","t":3.5,"v":0.195},{"s":"N=7","t":4,"v":0.225},{"s":"N=7","t":4.5,"v":0.25},{"s":"N=7","t":5,"v":0.275},{"s":"N=7","t":6,"v":0.305},{"s":"N=7","t":7,"v":0.33},{"s":"N=7","t":8,"v":0.35},{"s":"N=7","t":10,"v":0.37},{"s":"N=7","t":15,"v":0.40},{"s":"N=7","t":20,"v":0.43},{"s":"N=7","t":25,"v":0.45},{"s":"N=7","t":30,"v":0.46},{"s":"N=7","t":30.05,"v":0.85},{"s":"N=7","t":30.2,"v":1.42},{"s":"N=7","t":30.4,"v":1.98},{"s":"N=7","t":30.6,"v":2.46},{"s":"N=7","t":30.8,"v":2.85},{"s":"N=7","t":31,"v":3.11},{"s":"N=7","t":31.2,"v":3.25},{"s":"N=7","t":31.4,"v":3.32},{"s":"N=7","t":31.6,"v":3.34},{"s":"N=7","t":31.8,"v":3.33},{"s":"N=7","t":32,"v":3.27},{"s":"N=7","t":32.3,"v":3.12},{"s":"N=7","t":32.6,"v":2.95},{"s":"N=7","t":33,"v":2.74},{"s":"N=7","t":33.4,"v":2.56},{"s":"N=7","t":34,"v":2.30},{"s":"N=7","t":34.5,"v":2.10},{"s":"N=7","t":35,"v":1.96},{"s":"N=7","t":35.5,"v":1.87},{"s":"N=7","t":36,"v":1.82},{"s":"N=7","t":36.5,"v":1.80},{"s":"N=7","t":37,"v":1.78},{"s":"N=7","t":37.5,"v":1.75},{"s":"N=7","t":37.8,"v":1.66},{"s":"N=7","t":38.1,"v":1.49},{"s":"N=7","t":38.5,"v":1.40},{"s":"N=7","t":39,"v":1.29},{"s":"N=7","t":39.7,"v":1.19},{"s":"N=7","t":40.5,"v":1.11},{"s":"N=7","t":41.4,"v":1.05},{"s":"N=7","t":42.3,"v":1.00},{"s":"N=7","t":43.5,"v":0.95},{"s":"N=7","t":45,"v":0.92}
 ]},
 "layer": [
  {"transform": [{"filter": "datum.s == 'ref'"}],
   "mark": {"type": "line", "color": "#1a1a1a", "strokeDash": [7, 4, 2, 4], "strokeWidth": 2.5},
   "encoding": {
    "x": {"field": "t", "type": "quantitative", "scale": {"domain": [0, 45], "nice": false, "zero": false}, "axis": {"orient": "top", "labels": false, "title": null, "values": [0, 10, 20, 30, 40]}},
    "y": {"field": "v", "type": "quantitative", "scale": {"domain": [0, 4], "nice": false}, "axis": {"orient": "right", "labels": false, "title": null, "values": [0, 1, 2, 3, 4]}}
   }},
  {"transform": [{"filter": "datum.s != 'ref'"}],
   "mark": {"type": "line"},
   "encoding": {
    "x": {"field": "t", "type": "quantitative", "scale": {"domain": [0, 45], "nice": false, "zero": false}, "axis": {"orient": "bottom", "title": "t (h)", "values": [0, 10, 20, 30, 40]}},
    "y": {"field": "v", "type": "quantitative", "scale": {"domain": [0, 4], "nice": false}, "axis": {"orient": "left", "title": "Acetate (gA/L)", "values": [0, 1, 2, 3, 4]}},
    "color": {"field": "s", "type": "nominal", "scale": {"domain": ["N=3", "N=5", "N=6", "N=7"], "range": ["#ff3333", "#7e2060", "#5428b0", "#1432e6"]}, "legend": {"title": null}},
    "strokeDash": {"field": "s", "type": "nominal", "scale": {"domain": ["N=3", "N=5", "N=6", "N=7"], "range": [[1.5, 3.5], [9, 4, 2, 4], [11, 7], [1, 0]]}, "legend": {"title": null}}
   }}
 ],
 "resolve": {"scale": {"x": "independent", "y": "independent"}, "axis": {"x": "independent", "y": "independent"}}
}
]
}
